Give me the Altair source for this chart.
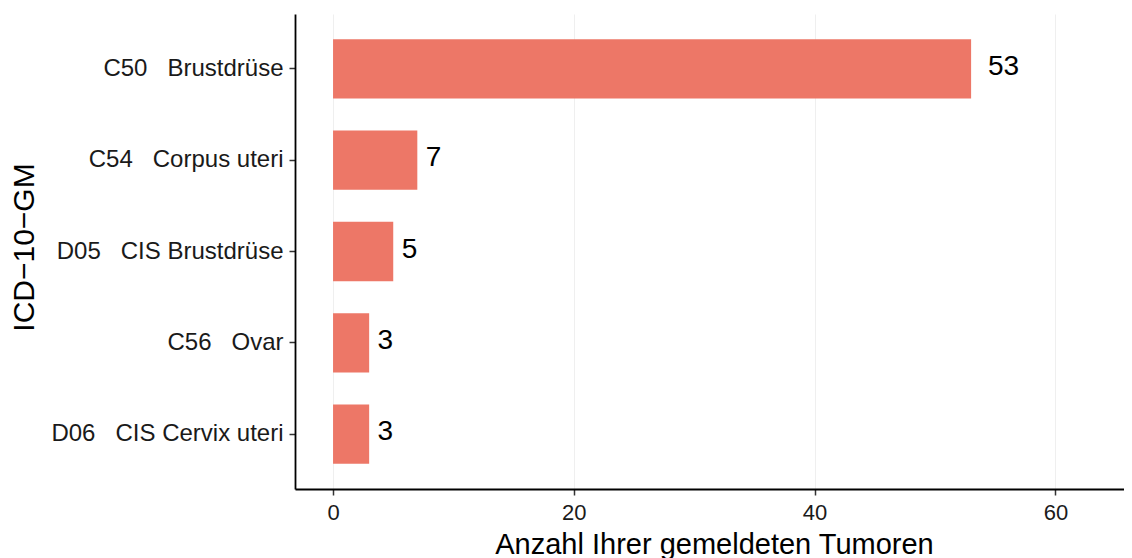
import altair as alt
import pandas as pd

SP = "\u00a0\u00a0\u00a0"
codes = ["C50", "C54", "D05", "C56", "D06"]
names = ["Brustdrüse", "Corpus uteri", "CIS Brustdrüse", "Ovar", "CIS Cervix uteri"]
categories = [c + SP + n.replace(" ", "\u00a0") for c, n in zip(codes, names)]
counts = [53, 7, 5, 3, 3]
x_ticks = [0, 20, 40, 60]

df = pd.DataFrame({"cat": categories, "n": counts})

FONT = "Liberation Sans"
BAR = "#ED7767"

x_scale = alt.Scale(domain=[-3.16, 65.7], nice=False, zero=False)
y_scale = alt.Scale(domain=categories, paddingInner=0.35, paddingOuter=0.276)

base = alt.Chart(df)

bars = base.mark_bar(color=BAR).encode(
    x=alt.X("n:Q", scale=x_scale,
            axis=alt.Axis(values=x_ticks, title="Anzahl Ihrer gemeldeten Tumoren",
                          titleX=419, titleY=64, titleBaseline="alphabetic",
                          titleFont=FONT, labelFont=FONT,
                          titleFontSize=29, labelFontSize=22, labelPadding=7,
                          grid=True, gridColor="#EFEFEF", gridWidth=1)),
    x2=alt.datum(0),
    y=alt.Y("cat:N", scale=y_scale, sort=categories,
            axis=alt.Axis(title="ICD\u221210\u2212GM", titleFontSize=30,
                          titleFont=FONT, labelFont=FONT,
                          titleX=-271, titleY=233, titleAngle=-90,
                          titleAlign="center", titleBaseline="middle",
                          labelFontSize=24, labelPadding=6, labelLimit=0,
                          grid=False)),
)

labels = base.transform_calculate(
    lx="datum.n + 0.7*length(toString(datum.n))",
    lab="toString(datum.n)"
).mark_text(align="left", baseline="middle", fontSize=28, font=FONT,
            color="black", dy=-2).encode(
    x=alt.X("lx:Q", scale=x_scale),
    y=alt.Y("cat:N", scale=y_scale, sort=categories),
    text="lab:N",
)

chart = alt.layer(bars, labels).properties(
    width=829, height=475,
    autosize=alt.AutoSizeParams(type="none"),
    padding={"left": 287, "top": 6, "right": 0, "bottom": 69},
).configure_view(stroke=None).configure_axis(
    labelFont=FONT, titleFont=FONT, labelColor="#1A1A1A", titleColor="black",
    titleFontWeight="normal", domainColor="black", domainWidth=1.8,
    tickColor="#333333", tickSize=6, tickWidth=1.5,
)

chart.save("out.html", embed_options={"renderer": "svg", "actions": False})
